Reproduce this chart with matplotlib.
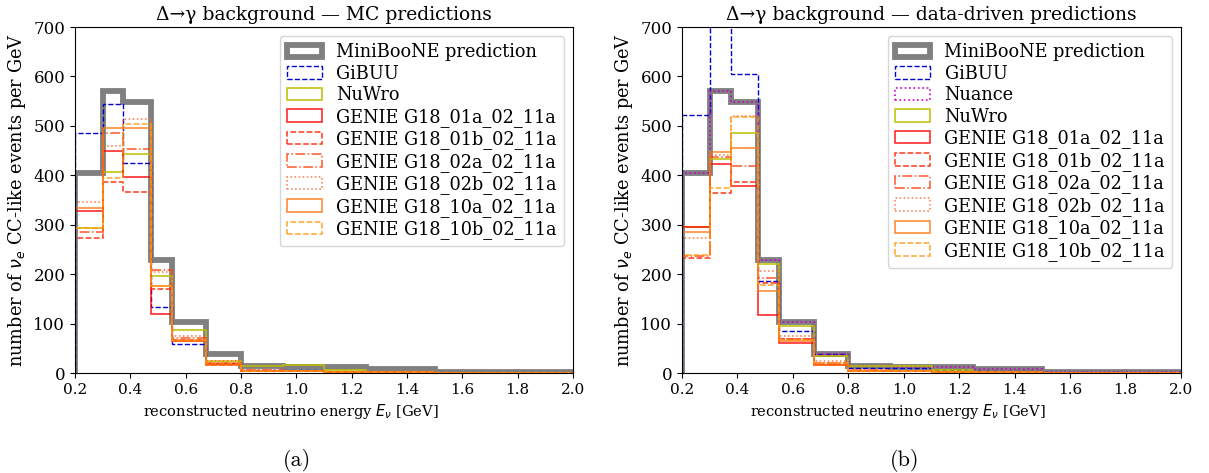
import matplotlib
matplotlib.use("Agg")
import matplotlib.pyplot as plt
from matplotlib.patches import Patch
import numpy as np

plt.rcParams['font.family'] = ['DejaVu Serif']
plt.rcParams['mathtext.fontset'] = 'dejavusans'

edges = [0.2, 0.3, 0.375, 0.475, 0.55, 0.675, 0.8, 0.95, 1.1, 1.25, 1.5, 3.0]

miniboone = [404, 570, 548, 228, 103, 38, 14, 13, 12, 8, 2]

# Panel (a): MC predictions
a_gibuu = [486, 545, 424, 133, 59, 20, 6, 6, 5, 3, 1]
a_nuwro = [293, 407, 444, 197, 87, 24, 15, 17, 7, 3, 1]
a_g01a = [327, 450, 396, 119, 64, 19, 5, 4, 3, 2, 0.5]
a_g01b = [273, 386, 367, 170, 67, 17, 5, 4, 3, 2, 0.5]
a_g02a = [285, 486, 453, 208, 71, 20, 6, 5, 3, 2, 0.5]
a_g02b = [345, 460, 514, 205, 75, 24, 6, 5, 3, 2, 0.5]
a_g10a = [333, 496, 495, 177, 64, 17, 5, 4, 3, 2, 0.5]
a_g10b = [293, 394, 504, 177, 67, 20, 5, 4, 3, 2, 0.5]

# Panel (b): data-driven predictions
b_gibuu = [521, 850, 604, 187, 84, 38, 11, 11, 7, 4, 1]
b_nuance = [404, 570, 548, 228, 103, 38, 14, 13, 12, 8, 2]
b_nuwro = [296, 432, 485, 221, 96, 34, 14, 15, 6, 3, 1]
b_g01a = [295, 423, 378, 117, 61, 17, 5, 4, 3, 2, 0.5]
b_g01b = [232, 364, 386, 182, 69, 18, 5, 4, 3, 2, 0.5]
b_g02a = [236, 438, 418, 193, 69, 20, 6, 5, 3, 2, 0.5]
b_g02b = [273, 442, 520, 207, 74, 24, 6, 5, 3, 2, 0.5]
b_g10a = [285, 447, 456, 165, 64, 17, 5, 4, 3, 2, 0.5]
b_g10b = [238, 374, 517, 179, 67, 20, 5, 4, 3, 2, 0.5]

genie_names = ["GENIE G18_01a_02_11a", "GENIE G18_01b_02_11a", "GENIE G18_02a_02_11a",
               "GENIE G18_02b_02_11a", "GENIE G18_10a_02_11a", "GENIE G18_10b_02_11a"]
genie_colors = ["#ff0000", "#ff2200", "#ff4411", "#ff6633", "#ff7711", "#ff9911"]
genie_styles = ["-", "--", "-.", ":", "-", "--"]

fig = plt.figure(figsize=(12.09, 4.73), dpi=100)
axA = fig.add_axes([75/1209, 100/473, 498/1209, 346/473])
axB = fig.add_axes([682/1209, 100/473, 499/1209, 346/473])


def draw(ax, gibuu, nuance, nuwro, genies, title):
    handles = []

    def step(vals, label, **kw):
        ax.stairs(vals, edges, **kw)
        handles.append(Patch(facecolor="none", edgecolor=kw["color"], lw=kw["lw"],
                             ls=kw.get("ls", "-"), alpha=kw.get("alpha", 1.0), label=label))

    step(miniboone, "MiniBooNE prediction", color="gray", lw=4.2)
    step(gibuu, "GiBUU", color="#0000cc", lw=1.0, ls="--")
    if nuance is not None:
        step(nuance, "Nuance", color="#cc00cc", lw=1.2, ls=":")
    step(nuwro, "NuWro", color="#bfbf00", lw=1.1, ls="-")
    for vals, name, c, s in zip(genies, genie_names, genie_colors, genie_styles):
        step(vals, name, color=c, lw=1.1, ls=s, alpha=0.9)
    ax.set_xlim(0.2, 2.0)
    ax.set_ylim(0, 700)
    ax.set_xticks(np.arange(0.2, 2.01, 0.2))
    ax.set_yticks(np.arange(0, 701, 100))
    ax.tick_params(axis="x", labelsize=11)
    ax.tick_params(axis="y", labelsize=12)
    ax.set_xlabel(r"reconstructed neutrino energy $E_\nu$ [GeV]", fontsize=10.5, x=0.433)
    ax.set_ylabel(r"number of $\nu_e$ CC-like events per GeV", fontsize=12.8, labelpad=4)
    ax.set_title(title, fontsize=13.5, pad=5)
    ax.legend(handles=handles, loc="upper right", fontsize=12.8, handlelength=2.0,
              labelspacing=0.2, borderaxespad=0.5)


draw(axA, a_gibuu, None, a_nuwro,
     [a_g01a, a_g01b, a_g02a, a_g02b, a_g10a, a_g10b],
     "Δ→γ background — MC predictions")
draw(axB, b_gibuu, b_nuance, b_nuwro,
     [b_g01a, b_g01b, b_g02a, b_g02b, b_g10a, b_g10b],
     "Δ→γ background — data-driven predictions")

fig.text(297/1209, 1 - 460/473, "(a)", family="cmr10", fontsize=16, ha="center", va="center")
fig.text(905/1209, 1 - 460/473, "(b)", family="cmr10", fontsize=16, ha="center", va="center")

fig.savefig("out.png", dpi=100)
